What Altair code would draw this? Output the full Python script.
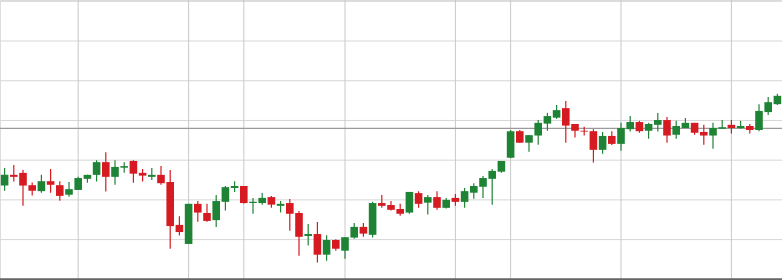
import altair as alt
import pandas as pd

# Daily OHLC values (arbitrary price units)
opens = [23.6, 26.3, 26.8, 23.7, 22.2, 24.7, 23.7, 21.3, 22.5, 25.3,
         26.3, 29.5, 25.8, 28.1, 29.8, 26.8, 25.8, 26.3, 24.5, 13.7,
         8.9, 19.0, 16.7, 14.9, 19.5, 23.0, 23.5, 19.2, 19.2, 20.7,
         18.5, 19.2, 16.7, 10.9, 11.4, 6.2, 9.9, 7.2, 10.5, 13.2,
         11.2, 19.2, 18.7, 17.7, 16.8, 21.7, 19.3, 20.7, 18.0, 20.5,
         19.5, 21.8, 23.3, 25.3, 27.1, 30.6, 37.3, 34.4, 36.2, 39.2,
         40.7, 43.1, 39.1, 37.4, 37.3, 32.6, 36.1, 34.1, 37.8, 39.6,
         37.4, 38.9, 40.1, 36.4, 38.1, 39.4, 37.1, 36.2, 37.9, 38.9,
         38.1, 38.6, 37.6, 42.1, 44.1]
highs = [28.0, 28.8, 27.5, 24.4, 26.3, 27.8, 24.7, 24.5, 25.8, 26.3,
         30.0, 32.0, 30.0, 29.5, 30.0, 27.8, 28.0, 28.5, 27.5, 15.9,
         19.0, 19.7, 19.0, 21.2, 23.5, 24.7, 23.5, 20.5, 21.7, 21.0,
         19.7, 20.2, 17.2, 13.9, 14.4, 11.1, 10.1, 10.6, 14.2, 14.2,
         19.5, 21.2, 19.7, 19.0, 22.0, 22.2, 21.2, 22.2, 20.5, 21.5,
         23.0, 24.2, 26.0, 27.8, 29.8, 37.6, 37.6, 36.3, 40.1, 41.9,
         43.9, 44.9, 39.1, 38.4, 37.8, 37.1, 37.3, 39.4, 41.1, 39.9,
         39.4, 41.9, 40.9, 39.9, 40.6, 39.4, 38.9, 39.4, 40.1, 40.1,
         39.9, 39.1, 44.1, 45.9, 46.7]
lows = [22.3, 24.6, 18.5, 21.1, 21.8, 21.8, 19.8, 20.8, 22.5, 24.3,
        24.6, 22.1, 23.8, 26.8, 24.3, 24.6, 25.0, 23.8, 7.7, 11.0,
        8.9, 14.5, 14.5, 13.2, 17.3, 22.0, 19.1, 16.5, 18.8, 18.0,
        16.8, 12.2, 5.9, 8.5, 4.2, 4.7, 7.2, 5.2, 10.2, 10.7,
        10.5, 18.0, 17.3, 16.0, 16.5, 18.0, 16.3, 17.5, 17.8, 18.5,
        18.0, 20.3, 20.5, 18.8, 26.8, 30.5, 34.3, 32.1, 33.9, 37.4,
        40.4, 34.4, 35.7, 36.2, 29.4, 31.6, 33.8, 32.4, 37.2, 36.9,
        35.4, 37.2, 34.4, 35.4, 38.1, 36.4, 33.9, 32.9, 37.9, 36.7,
        37.9, 36.7, 37.3, 41.4, 43.9]
closes = [26.3, 25.8, 23.6, 22.3, 24.7, 23.8, 21.0, 22.7, 25.5, 26.3,
          29.5, 25.8, 28.3, 28.5, 26.6, 26.1, 26.3, 24.2, 13.4, 11.9,
          19.0, 16.8, 14.7, 19.7, 23.2, 23.5, 19.2, 19.5, 20.5, 18.8,
          19.0, 16.5, 10.7, 11.4, 6.2, 9.9, 7.7, 10.6, 13.2, 11.5,
          19.2, 18.5, 17.5, 16.5, 22.0, 19.0, 20.7, 18.0, 20.0, 19.5,
          22.2, 23.5, 25.5, 27.3, 29.8, 37.3, 34.4, 36.3, 39.4, 41.1,
          42.6, 38.7, 37.4, 37.2, 32.6, 36.1, 34.1, 38.1, 39.6, 37.3,
          39.1, 40.1, 36.2, 38.6, 39.4, 36.9, 36.2, 38.1, 38.3, 38.1,
          38.6, 37.6, 42.4, 44.6, 46.2]

# Vertical grid positions (session index) and horizontal grid levels
x_grid = [8, 20, 26, 37, 49, 55, 67, 79]
y_grid = [0, 10, 20, 30, 40, 50, 60, 70]
ref_level = [38.0]
base_level = [0.0]

UP = "#1e8335"
DOWN = "#d51a21"

df = pd.DataFrame({
    "i": list(range(len(opens))),
    "open": opens, "high": highs, "low": lows, "close": closes,
})
df["dir"] = ["up" if c >= o else "down" for o, c in zip(opens, closes)]

xs = alt.Scale(domain=[-0.5, len(opens) - 0.5], nice=False, zero=False, padding=0)
ys = alt.Scale(domain=[-0.176, 70.33], nice=False, zero=False, padding=0)
color = alt.Color("dir:N", scale=alt.Scale(domain=["up", "down"], range=[UP, DOWN]), legend=None)

# grid layers drawn as plain rules from the grid value lists
vgrid = alt.Chart(pd.DataFrame({"g": x_grid})).mark_rule(
    color="#c9c9c9", strokeWidth=1
).encode(x=alt.X("g:Q", scale=xs, axis=None))
hgrid = alt.Chart(pd.DataFrame({"g": y_grid})).mark_rule(
    color="#d6d6d6", strokeWidth=1
).encode(y=alt.Y("g:Q", scale=ys, axis=None))

base = alt.Chart(df)

wicks = base.mark_rule(strokeWidth=1.2).encode(
    x=alt.X("i:Q", scale=xs, axis=None),
    y=alt.Y("low:Q", scale=ys, axis=None),
    y2="high:Q",
    color=color,
)
bodies = base.mark_bar(size=7.6).encode(
    x=alt.X("i:Q", scale=xs, axis=None),
    y=alt.Y("open:Q", scale=ys, axis=None),
    y2="close:Q",
    color=color,
)

ref = alt.Chart(pd.DataFrame({"v": ref_level})).mark_rule(
    color="#9a9a9a", strokeWidth=1.2
).encode(y=alt.Y("v:Q", scale=ys, axis=None))
bottom = alt.Chart(pd.DataFrame({"v": base_level})).mark_rule(
    color="#666666", strokeWidth=2
).encode(y=alt.Y("v:Q", scale=ys, axis=None))

chart = alt.layer(hgrid, vgrid, ref, wicks, bodies, bottom).properties(
    width=782, height=280,
    autosize=alt.AutoSizeParams(type="none"),
    padding=0,
).configure_view(stroke=None).configure(background="white")

chart.save("out.html", embed_options={"renderer": "svg", "actions": False})
